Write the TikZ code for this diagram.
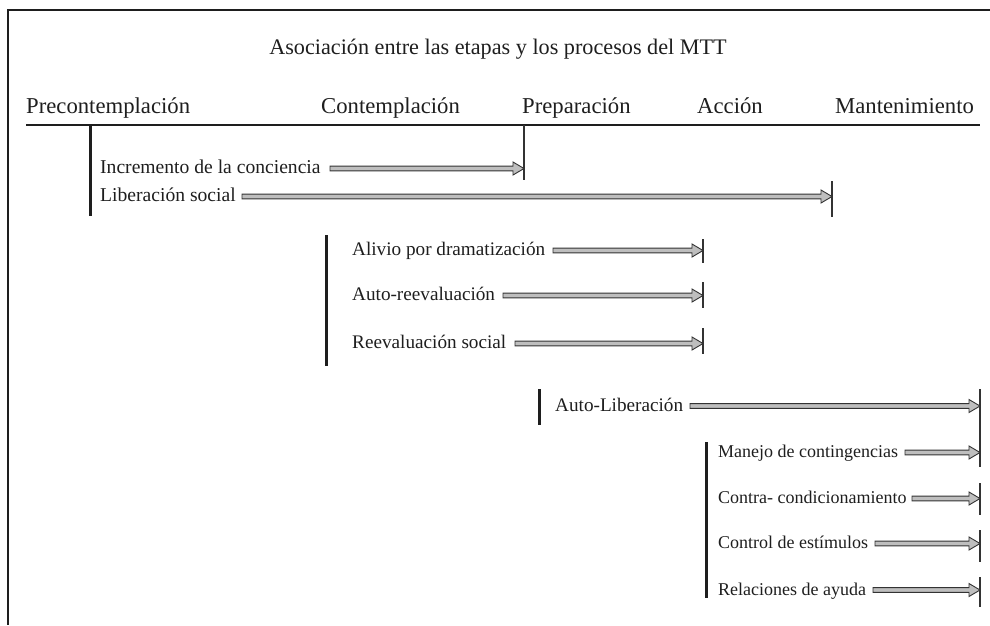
\documentclass[tikz,border=0pt]{standalone}
\usepackage{fontspec}
\setmainfont{Liberation Serif}
\usetikzlibrary{calc}
\definecolor{arrowfill}{HTML}{BEBEBE}
\definecolor{arrowline}{HTML}{333333}
\definecolor{ink}{HTML}{1E1E1E}
\begin{document}
\begin{tikzpicture}[x=1pt,y=-1pt,
  frameline/.style={draw=ink,line width=1.3pt},
  stagebar/.style={draw=ink,line width=3pt},
  endline/.style={draw=arrowline,line width=1.1pt},
  titletext/.style={inner sep=0pt,anchor=base,font=\fontsize{22.2}{26}\selectfont,text=ink},
  stagetext/.style={inner sep=0pt,anchor=base west,font=\fontsize{22.7}{27}\selectfont,text=ink},
  proctext/.style={inner sep=0pt,anchor=base west,font=\fontsize{19.6}{23}\selectfont,text=ink},
  proctextb/.style={proctext,font=\fontsize{19.2}{23}\selectfont},
  proctextc/.style={proctext,font=\fontsize{18}{22}\selectfont},
  fatarrow/.style={draw=arrowline,fill=arrowfill,line width=0.9pt,line join=miter,
    to path={let \p1=(\tikztostart),\p2=(\tikztotarget) in
      (\x1,\y1+2.4pt) -- (\x2-11pt,\y1+2.4pt) -- (\x2-11pt,\y1+6.5pt) -- (\x2,\y1)
      -- (\x2-11pt,\y1-6.5pt) -- (\x2-11pt,\y1-2.4pt) -- (\x1,\y1-2.4pt) -- cycle}}
]
\useasboundingbox (0,0) rectangle (990,625);
% frame
\coordinate (fTL) at (8,10);
\coordinate (fTR) at (990,10);
\coordinate (fBL) at (8,625);
\draw[frameline] (fTR) -- (fTL) -- (fBL);

% title
\node[titletext] (title) at (498,54) {Asociación entre las etapas y los procesos del MTT};

% stages
\node[stagetext] (pre) at (26,113) {Precontemplación};
\node[stagetext] (con) at (321,113) {Contemplación};
\node[stagetext] (prep) at (522,113) {Preparación};
\node[stagetext] (acc) at (697,113) {Acción};
\node[stagetext] (man) at (835,113) {Mantenimiento};
\coordinate (hL) at (26,125);
\coordinate (hR) at (980,125);
\draw[draw=ink,line width=1.2pt] (hL) -- (hR);

% group 1
\coordinate (b1a) at (90,125); \coordinate (b1b) at (90,216);
\draw[stagebar] (b1a) -- (b1b);
\node[proctext] (inc) at (100,173.5) {Incremento de la conciencia};
\node[proctext] (lib) at (100,201) {Liberación social};
\coordinate (t1a) at (524,125); \coordinate (t1b) at (524,180);
\coordinate (t1) at (524,168.5);
\coordinate (t2a) at (832,181); \coordinate (t2b) at (832,217);
\coordinate (t2) at (832,196.5);
\draw[endline] (t1a) -- (t1b);
\draw[endline] (t2a) -- (t2b);
\coordinate (s1) at (330,168.5);
\coordinate (s2) at (242,196.5);
\draw[fatarrow] (s1) to (t1);
\draw[fatarrow] (s2) to (t2);

% group 2
\coordinate (b2a) at (326,235); \coordinate (b2b) at (326,366);
\draw[stagebar] (b2a) -- (b2b);
\node[proctextb] (ali) at (352,255.5) {Alivio por dramatización};
\node[proctextb] (aut) at (352,300.5) {Auto-reevaluación};
\node[proctextb] (ree) at (352,348.5) {Reevaluación social};
\coordinate (t3a) at (703,239); \coordinate (t3b) at (703,263); \coordinate (t3) at (703,250.5);
\coordinate (t4a) at (703,282); \coordinate (t4b) at (703,308); \coordinate (t4) at (703,295.5);
\coordinate (t5a) at (703,328); \coordinate (t5b) at (703,354); \coordinate (t5) at (703,343.5);
\draw[endline] (t3a) -- (t3b);
\draw[endline] (t4a) -- (t4b);
\draw[endline] (t5a) -- (t5b);
\coordinate (s3) at (553,250.5);
\coordinate (s4) at (503,295.5);
\coordinate (s5) at (515,343.5);
\draw[fatarrow] (s3) to (t3);
\draw[fatarrow] (s4) to (t4);
\draw[fatarrow] (s5) to (t5);

% group 3
\coordinate (b3a) at (539,389); \coordinate (b3b) at (539,425);
\draw[stagebar] (b3a) -- (b3b);
\node[proctextb] (alib) at (555,411) {Auto-Liberación};
\coordinate (t6a) at (980,389); \coordinate (t6b) at (980,467); \coordinate (t6) at (980,406);
\draw[endline] (t6a) -- (t6b);
\coordinate (s6) at (690,406);
\draw[fatarrow] (s6) to (t6);

% group 4
\coordinate (b4a) at (706,442); \coordinate (b4b) at (706,598);
\draw[stagebar] (b4a) -- (b4b);
\node[proctextc] (manc) at (718,457.5) {Manejo de contingencias};
\node[proctextc] (cont) at (718,503.5) {Contra- condicionamiento};
\node[proctextc] (cest) at (718,548.5) {Control de estímulos};
\node[proctextc] (rel) at (718,595) {Relaciones de ayuda};
\coordinate (t7) at (980,452.5);
\coordinate (t8a) at (980,483); \coordinate (t8b) at (980,515); \coordinate (t8) at (980,498.5);
\coordinate (t9a) at (980,530); \coordinate (t9b) at (980,562); \coordinate (t9) at (980,543.5);
\coordinate (t10a) at (980,577); \coordinate (t10b) at (980,607); \coordinate (t10) at (980,590);
\draw[endline] (t8a) -- (t8b);
\draw[endline] (t9a) -- (t9b);
\draw[endline] (t10a) -- (t10b);
\coordinate (s7) at (905,452.5);
\coordinate (s8) at (912,498.5);
\coordinate (s9) at (875,543.5);
\coordinate (s10) at (873,590);
\draw[fatarrow] (s7) to (t7);
\draw[fatarrow] (s8) to (t8);
\draw[fatarrow] (s9) to (t9);
\draw[fatarrow] (s10) to (t10);
\end{tikzpicture}
\end{document}
